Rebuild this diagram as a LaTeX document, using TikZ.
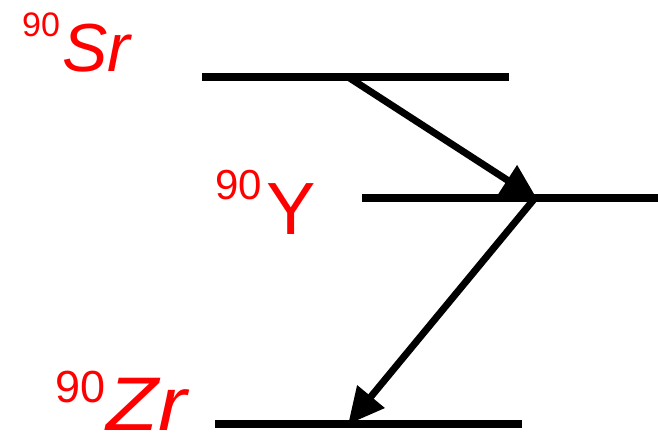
\documentclass[tikz,border=0pt]{standalone}
\usepackage{fontspec}
\setmainfont{Liberation Sans}
\usetikzlibrary{arrows.meta}
\definecolor{lblred}{RGB}{255,0,0}
\tikzset{
  lvlline/.style={line width=8pt},
  decayarrow/.style={line width=7pt,-{Triangle[length=36pt,width=34pt]},shorten >=-3pt},
  lbl/.style={anchor=base west,inner sep=0pt,text=lblred},
}
\begin{document}
\begin{tikzpicture}[x=1pt,y=1pt]
\useasboundingbox (0,0) rectangle (658,438);
% levels
\coordinate (srL) at (202,361); \coordinate (srR) at (509,361);
\coordinate (yL) at (362,240);  \coordinate (yR) at (658,240);
\coordinate (zrL) at (215,14);  \coordinate (zrR) at (522,14);
\draw[lvlline] (srL) -- (srR);
\draw[lvlline] (yL) -- (yR);
\draw[lvlline] (zrL) -- (zrR);
% decay points
\coordinate (srD) at (348,361);
\coordinate (yD) at (535,240);
\coordinate (zrD) at (350,16);
\draw[decayarrow] (srD) -- (yD);
\draw[decayarrow] (yD) -- (zrD);
% labels
\node[lbl,font=\fontsize{34}{34}\selectfont] (srA) at (22,401) {90};
\node[lbl,font=\fontsize{68}{68}\selectfont\itshape] (srS) at (62,366) {Sr};
\node[lbl,font=\fontsize{42}{42}\selectfont] (yA) at (215,238) {90};
\node[lbl,font=\fontsize{74}{74}\selectfont] (yS) at (266,203) {Y};
\node[lbl,font=\fontsize{45}{45}\selectfont] (zrA) at (55,35) {90};
\node[lbl,font=\fontsize{76}{76}\selectfont\itshape] (zrS) at (106,7) {\scalebox{1.12}[1]{Zr}};
\end{tikzpicture}
\end{document}
